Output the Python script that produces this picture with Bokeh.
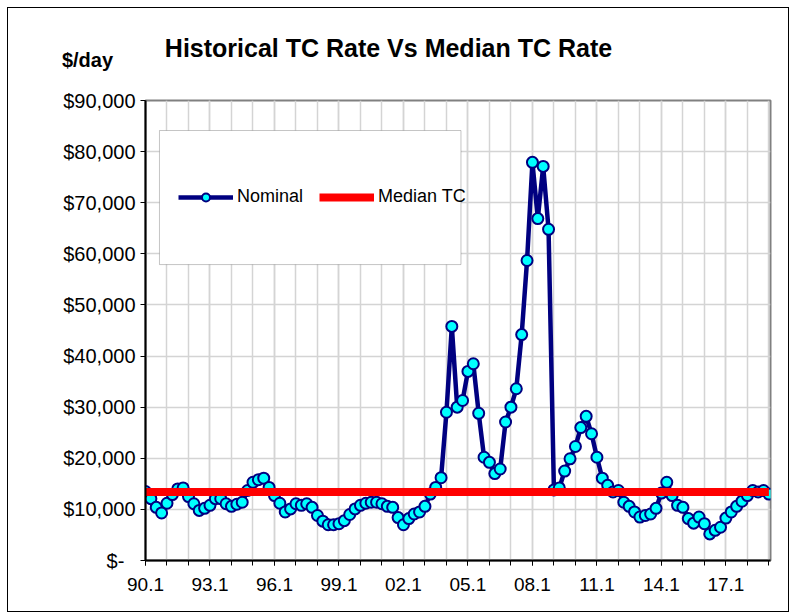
from bokeh.plotting import figure
from bokeh.models import FixedTicker, Legend, LegendItem, BoxAnnotation, Label, Range1d
from bokeh.embed import file_html
from bokeh.resources import INLINE

# ---- data (quarterly TC rates, $/day) ----
nominal = [
    13500, 12100, 10400, 9300, 11200, 12900, 14000, 14200, 12500, 11100,
    9800, 10200, 10800, 12100, 12100, 11100, 10600, 11000, 11400, 13700,
    15300, 15800, 16100, 14300, 12700, 11200, 9500, 10100, 11100, 10800,
    11100, 10400, 8800, 7700, 7000, 7000, 7200, 7800, 9000, 10100,
    10800, 11200, 11400, 11400, 11100, 10600, 10400, 8400, 7000, 8200,
    9100, 9500, 10600, 13000, 14300, 16200,
    29000, 45800, 30000, 31300, 37000, 38500, 28800, 20200, 19200, 17000,
    17900, 27100, 30000, 33600, 44200, 58700, 77900, 66900, 77100, 64800,
    13800, 14200, 17500, 19900, 22300, 26000, 28200, 24800, 20200, 16100,
    14700, 13400, 13700, 11400, 10600, 9500, 8500, 8800, 9100, 10200,
    13200, 15300, 12700, 10800, 10400, 8200, 7300, 8500, 7200, 5200,
    5900, 6500, 8300, 9500, 10600, 11600, 12700, 13700, 13400, 13700,
    13000,
]
median_tc = 13400

x_tick_labels = ["90.1", "93.1", "96.1", "99.1", "02.1", "05.1", "08.1", "11.1", "14.1", "17.1"]
y_tick_values = [0, 10000, 20000, 30000, 40000, 50000, 60000, 70000, 80000, 90000]
y_tick_labels = ["$-\u00a0\u00a0", "$10,000", "$20,000", "$30,000", "$40,000",
                 "$50,000", "$60,000", "$70,000", "$80,000", "$90,000"]

N = len(nominal)
xs = list(range(N))
FONT = "Liberation Sans"

p = figure(width=782, height=605, output_backend="svg", toolbar_location=None,
           x_range=Range1d(0, N - 1 + 0.3), y_range=Range1d(0, 90000),
           min_border_left=137, min_border_top=92, min_border_right=20, min_border_bottom=53)
p.background_fill_color = "white"
p.border_fill_color = "white"
p.outline_line_color = "#808080"
p.outline_line_width = 2
p.styles = {"margin": "7px 0 0 7px", "border": "1px solid black"}

# axes
major_x = list(range(0, N, 12))
minor_x = list(range(0, N, 4))
p.xaxis.ticker = FixedTicker(ticks=major_x, minor_ticks=minor_x)
p.xaxis.major_label_overrides = {t: lab for t, lab in zip(major_x, x_tick_labels)}
p.yaxis.ticker = FixedTicker(ticks=y_tick_values, minor_ticks=[])
p.yaxis.major_label_overrides = {v: lab for v, lab in zip(y_tick_values, y_tick_labels)}

for ax in (p.xaxis, p.yaxis):
    ax.axis_line_color = "black"
    ax.axis_line_width = 2
    ax.major_tick_line_color = "black"
    ax.major_tick_line_width = 1
    ax.major_tick_in = 0
    ax.major_tick_out = 5
    ax.major_label_text_font = FONT
    ax.major_label_text_color = "black"
p.xaxis.minor_tick_line_color = "black"
p.xaxis.minor_tick_in = 0
p.xaxis.minor_tick_out = 5
p.yaxis.minor_tick_line_color = None
p.xaxis.major_label_text_font_size = "19px"
p.yaxis.major_label_text_font_size = "20px"
p.xaxis.major_label_standoff = 12
p.yaxis.major_label_standoff = 5

p.xgrid.grid_line_color = "#d4d4d4"
p.xgrid.grid_line_width = 1.5
p.xgrid.minor_grid_line_color = "#d4d4d4"
p.xgrid.minor_grid_line_width = 1.5
p.ygrid.grid_line_color = "#d4d4d4"
p.ygrid.grid_line_width = 1.5

# series
r_line = p.line(xs, nominal, line_color="#000080", line_width=4.5)
r_pts = p.scatter(xs, nominal, size=11, fill_color="#00FFFF", line_color="#000080", line_width=2)
r_med = p.line([0, N - 1], [median_tc, median_tc], line_color="#FF0000", line_width=8)

# legend box + legend
box = BoxAnnotation(left=2.6, right=58.7, top=84130, bottom=57900,
                    fill_color="white", fill_alpha=1.0, line_color="#404040", line_width=1)
p.add_layout(box)
legend = Legend(items=[LegendItem(label="Nominal", renderers=[r_line, r_pts]),
                       LegendItem(label="Median TC", renderers=[r_med])],
                orientation="horizontal", location=(33, 353), padding=0, margin=0,
                border_line_color=None, background_fill_alpha=0,
                glyph_width=55, glyph_height=20, label_standoff=4, spacing=16,
                label_text_font=FONT, label_text_font_size="18px", label_text_color="black")
p.add_layout(legend)

# title and unit label (placed in the panel above the plot frame)
p.add_layout(Label(x=243, y=53, x_units="screen", y_units="screen",
                   text="Historical TC Rate Vs Median TC Rate", text_align="center",
                   text_baseline="middle", text_font=FONT, text_font_size="25px",
                   text_font_style="bold", text_color="black"), "above")
p.add_layout(Label(x=-58, y=13, x_units="screen", y_units="screen",
                   text="$/day", text_align="center", text_baseline="middle",
                   text_font=FONT, text_font_size="20px", text_font_style="bold",
                   text_color="black"), "above")

open("out.html", "w").write(file_html(p, INLINE))
